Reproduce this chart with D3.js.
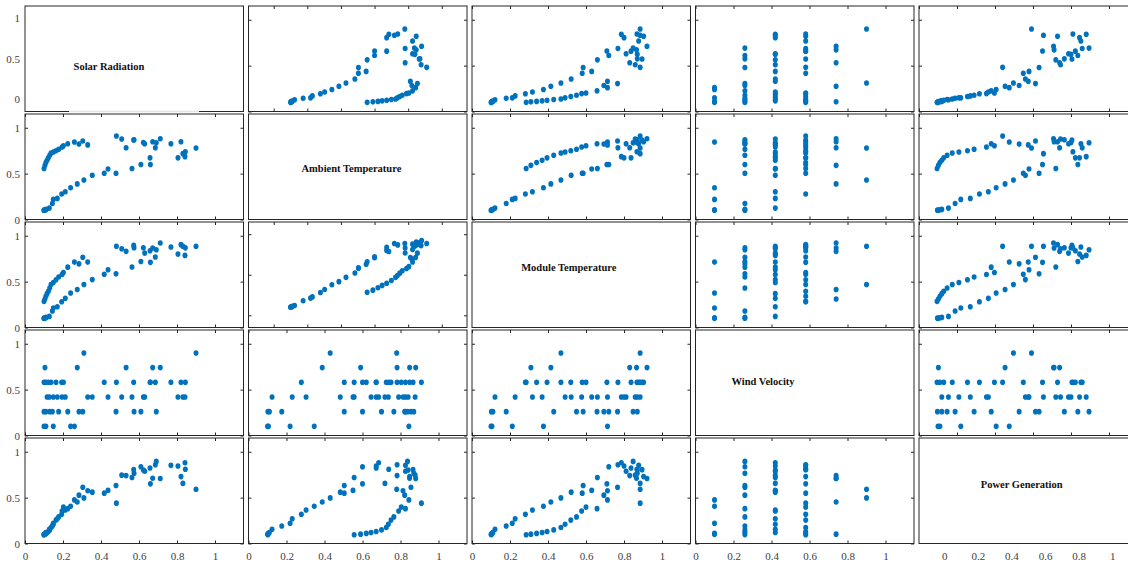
<!DOCTYPE html>
<html><head><meta charset="utf-8">
<script src="https://cdn.jsdelivr.net/npm/d3@7"></script>
<style>body{margin:0;background:#fff} svg{display:block}</style>
</head><body><svg id="c" width="1128" height="565"></svg>
<script>
// ---- data (one row per observation) ----
const variableNames = ["Solar Radiation","Ambient Temperature","Module Temperature","Wind Velocity","Power Generation"];
const solar   = [.100,.105,.110,.116,.123,.130,.137,.149,.163,.177,.195,.202,.225,.260,.284,.304,.330,
                 .100,.110,.100,.110,.128,.144,.149,.170,.193,.212,.240,.275,.310,.354,.417,.437,.479,
                 .563,.610,.660,.658,.805,.831,.844,.842,.900,
                 .481,.509,.532,.572,.574,.623,.630,.672,.686,.691,.712,.768,.821];
const ambient = [.556,.590,.620,.645,.672,.700,.725,.736,.750,.765,.790,.804,.826,.844,.822,.855,.813,
                 .100,.105,.102,.110,.124,.175,.219,.230,.278,.303,.346,.388,.430,.483,.504,.550,.504,
                 .556,.600,.600,.672,.672,.718,.738,.685,.780,
                 .910,.877,.782,.866,.870,.840,.826,.848,.782,.837,.880,.826,.848];
const moduleT = [.285,.310,.340,.369,.395,.430,.468,.490,.520,.550,.577,.600,.658,.713,.694,.766,.713,
                 .100,.105,.102,.110,.121,.180,.212,.227,.281,.318,.376,.415,.468,.522,.580,.630,.585,
                 .660,.720,.710,.837,.800,.885,.868,.786,.885,
                 .885,.859,.830,.895,.870,.870,.811,.866,.768,.848,.921,.877,.903];
const wind    = [.58,.74,.58,.42,.58,.26,.58,.42,.58,.26,.42,.58,.26,.10,.26,.26,.42,
                 .10,.10,.26,.26,.42,.26,.10,.42,.58,.42,.10,.74,.90,.42,.58,.42,.26,
                 .42,.26,.58,.58,.42,.42,.58,.42,.90,
                 .58,.42,.74,.58,.26,.42,.42,.74,.58,.26,.74,.58,.58];
const power   = [.095,.102,.110,.120,.130,.148,.175,.210,.255,.290,.355,.397,.380,.475,.527,.613,.575,
                 .100,.110,.097,.120,.155,.190,.220,.270,.318,.365,.406,.453,.497,.560,.549,.579,.632,
                 .720,.836,.650,.823,.845,.655,.810,.880,.592,
                 .440,.745,.740,.805,.765,.800,.787,.711,.859,.895,.708,.852,.729];
const xTickValues = [0,0.2,0.4,0.6,0.8,1];
const xTickLabels = ["0","0.2","0.4","0.6","0.8","1"];
const yTickValues = [0,0.5,1];
const yTickLabels = ["0","0.5","1"];

// ---- layout / style ----
const series = [solar, ambient, moduleT, wind, power];
const N = series.length;
const left0 = 25, top0 = 6, stepX = 223.5, stepY = 108, pw = 218.5, ph = 105.5;
const domA = [0, 1.15], domB = [-0.15, 1.15];
const xUsesB = (r, c) => (r === 0 && c === 1) || (r === 2 && c === 1);
const yUsesB = (r, c) => (r === 2 && c === 1);
const titlePos = [[.384,.575],[.471,.515],[.443,.43],[.309,.49],[.47,.44]];
const ink = "#262626", blue = "#0072BD";
const font = "'Liberation Serif','Times New Roman',serif";

const svg = d3.select("#c");

for (let r = 0; r < N; r++) {
  for (let c = 0; c < N; c++) {
    const x0 = left0 + c * stepX, y0 = top0 + r * stepY;
    const g = svg.append("g").attr("transform", `translate(${x0},${y0})`);
    const x = d3.scaleLinear().domain(xUsesB(r, c) ? domB : domA).range([0, pw]);
    const y = d3.scaleLinear().domain(yUsesB(r, c) ? domB : domA).range([ph, 0]);

    if (r !== c) {
      const pts = d3.range(solar.length).map(i => [series[c][i], series[r][i]]);
      g.selectAll("ellipse").data(pts).join("ellipse")
        .attr("cx", d => x(d[0])).attr("cy", d => y(d[1]))
        .attr("rx", 2.5).attr("ry", 2.8).attr("fill", blue);

      const axes = [
        [d3.axisBottom(x).tickValues(xTickValues).tickSize(-3), `translate(0,${ph})`],
        [d3.axisTop(x).tickValues(xTickValues).tickSize(-3), `translate(0,0)`],
        [d3.axisLeft(y).tickValues(yTickValues).tickSize(-3), `translate(0,0)`],
        [d3.axisRight(y).tickValues(yTickValues).tickSize(-3), `translate(${pw},0)`]
      ];
      axes.forEach(([ax, tr]) => {
        const a = g.append("g").attr("transform", tr).call(ax.tickFormat(""));
        a.select(".domain").remove();
        a.selectAll("line").attr("stroke", ink).attr("stroke-width", 1);
      });
    } else {
      g.append("text")
        .attr("x", titlePos[r][0] * pw).attr("y", titlePos[r][1] * ph)
        .attr("text-anchor", "middle").attr("dominant-baseline", "central")
        .attr("font-family", font).attr("font-weight", "bold").attr("font-size", 10.5)
        .attr("fill", "#111").text(variableNames[r]);
    }

    g.append("rect").attr("x", 0).attr("y", 0).attr("width", pw).attr("height", ph)
      .attr("fill", "none").attr("stroke", ink).attr("stroke-width", 1);

    // tick labels: left column and bottom row
    if (c === 0) {
      const ly = d3.scaleLinear().domain(r === 0 ? domB : domA).range([ph, 0]);
      const a = g.append("g").call(d3.axisLeft(ly).tickValues(yTickValues)
        .tickFormat((d, i) => yTickLabels[i]).tickSize(0).tickPadding(5));
      a.select(".domain").remove();
      a.selectAll("text").attr("font-family", font).attr("font-size", 11).attr("fill", "#404040");
    }
    if (r === N - 1) {
      const lx = d3.scaleLinear().domain(c === N - 1 ? domB : domA).range([0, pw]);
      const a = g.append("g").attr("transform", `translate(0,${ph})`)
        .call(d3.axisBottom(lx).tickValues(xTickValues)
        .tickFormat((d, i) => xTickLabels[i]).tickSize(0).tickPadding(9));
      a.select(".domain").remove();
      a.selectAll("text").attr("font-family", font).attr("font-size", 11).attr("fill", "#404040");
    }
  }
}
// faint segment over the first panel's lower border
svg.append("line").attr("x1", 69).attr("x2", 199)
  .attr("y1", top0 + ph).attr("y2", top0 + ph)
  .attr("stroke", "#e4e4e4").attr("stroke-width", 1.5);
</script></body></html>
